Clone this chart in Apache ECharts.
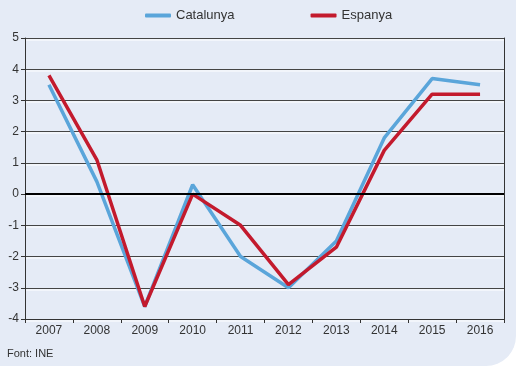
<!DOCTYPE html>
<html><head><meta charset="utf-8">
<script src="https://cdn.jsdelivr.net/npm/echarts@6/dist/echarts.min.js"></script>
<style>html,body{margin:0;padding:0;background:#fff}#c{width:516px;height:366px;background:#E5EBF6;border-bottom-right-radius:30px;overflow:hidden}</style>
</head><body><div id="c"></div>
<script>
const years = ['2007','2008','2009','2010','2011','2012','2013','2014','2015','2016'];
const catalunya = [3.5, 0.4, -3.6, 0.3, -2.0, -3.0, -1.5, 1.8, 3.7, 3.5];
const espanya = [3.8, 1.1, -3.6, 0.0, -1.0, -2.9, -1.7, 1.4, 3.2, 3.2];
const FONT = '"Liberation Sans Narrow","Arial Narrow","Liberation Sans",sans-serif';
const chart = echarts.init(document.getElementById('c'), null, {renderer:'canvas'});
chart.setOption({
  backgroundColor: 'transparent',
  animation: false,
  legend: {
    top: 4, left: 140, itemGap: 76, itemWidth: 26, itemHeight: 4,
    icon: 'roundRect',
    textStyle: {fontFamily: FONT, fontSize: 13, color: '#333'},
    data: ['Catalunya','Espanya']
  },
  graphic: [{type:'text', left: 7, top: 348, style:{text:'Font: INE', font:'11px "Liberation Sans", sans-serif', fill:'#333'}}],
  grid: {left: 25, right: 12, top: 38, bottom: 47},
  xAxis: {
    type: 'category', data: years, boundaryGap: true,
    axisLine: {onZero: false, lineStyle: {color: '#333', width: 1}},
    axisTick: {show: true, inside: false, length: 4, lineStyle:{color:'#333'}},
    axisLabel: {fontFamily: FONT, fontSize: 12, color: '#333', margin: 6},
    splitLine: {show: false}
  },
  yAxis: [{
    type: 'value', min: -4, max: 5, interval: 1,
    axisLine: {show: true, lineStyle: {color: '#333', width: 1}},
    axisTick: {show: true, length: 4, lineStyle:{color:'#333'}},
    axisLabel: {fontFamily: FONT, fontSize: 12, color: '#333', margin: 6},
    splitLine: {show: true, lineStyle: {color: '#444', width: 1, shadowColor: '#ffffff', shadowOffsetY: 1.5, shadowBlur: 0}}
  }, {
    type:'value', min:-4, max:5, interval:1, position:'right',
    axisLine:{show:true, lineStyle:{color:'#333'}}, axisTick:{show:false}, axisLabel:{show:false}, splitLine:{show:false}
  }],
  series: [
    {name:'Catalunya', type:'line', data: catalunya, symbol:'none', color:'#5AA5DA', lineStyle:{width:3.5, color:'#5AA5DA'},
     markLine:{silent:true, symbol:'none', label:{show:false}, lineStyle:{color:'#000', width:2, type:'solid'}, data:[{yAxis:0}]}},
    {name:'Espanya', type:'line', data: espanya, symbol:'none', color:'#C31A2D', lineStyle:{width:3.5, color:'#C31A2D'}}
  ]
});
</script>
</body></html>
